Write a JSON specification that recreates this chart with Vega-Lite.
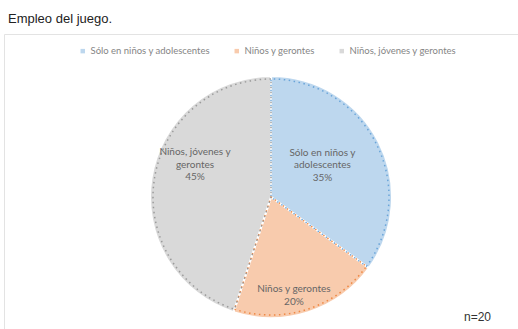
{
  "$schema": "https://vega.github.io/schema/vega-lite/v6.json",
  "autosize": "none",
  "width": 514,
  "height": 295,
  "padding": {"left": 4, "top": 34, "right": 0, "bottom": 0},
  "background": "white",
  "title": {
    "text": "Empleo del juego.",
    "anchor": "start",
    "frame": "group",
    "dx": 4,
    "offset": 8,
    "fontSize": 13,
    "font": "Liberation Sans",
    "fontWeight": "normal",
    "color": "#222222"
  },
  "config": {
    "view": {"stroke": "#e3e3e3", "strokeWidth": 1}
  },
  "data": {
    "values": [
      {"i": 1, "categoria": "Sólo en niños y adolescentes", "valor": 35, "label": ["Sólo en niños y", "adolescentes", "35%"]},
      {"i": 2, "categoria": "Niños y gerontes", "valor": 20, "label": ["Niños y gerontes", "20%"]},
      {"i": 3, "categoria": "Niños, jóvenes y gerontes", "valor": 45, "label": ["Niños, jóvenes y", "gerontes", "45%"]}
    ]
  },
  "encoding": {
    "theta": {"field": "valor", "type": "quantitative", "stack": true},
    "order": {"field": "i", "type": "quantitative"}
  },
  "layer": [
    {
      "mark": {"type": "arc", "radius": 121, "xOffset": 10, "yOffset": 15.5, "stroke": "white", "strokeWidth": 2},
      "encoding": {
        "color": {
          "field": "categoria",
          "type": "nominal",
          "scale": {
            "domain": ["Sólo en niños y adolescentes", "Niños y gerontes", "Niños, jóvenes y gerontes"],
            "range": ["#bdd7ee", "#f8cbad", "#d9d9d9"]
          },
          "legend": {
            "title": null,
            "orient": "none",
            "direction": "horizontal",
            "legendX": 74,
            "legendY": 12,
            "symbolType": "square",
            "symbolSize": 20,
            "symbolStrokeWidth": 0,
            "labelFont": "Lato",
            "labelFontSize": 9.5,
            "labelColor": "#858585",
            "labelOffset": 3,
            "columnPadding": 22
          }
        }
      }
    },
    {
      "mark": {"type": "arc", "radius": 118, "xOffset": 10, "yOffset": 15.5, "fill": null, "filled": false, "strokeWidth": 1.5, "strokeDash": [1.5, 3.5], "opacity": 0.85},
      "encoding": {
        "stroke": {
          "field": "categoria",
          "type": "nominal",
          "scale": {
            "domain": ["Sólo en niños y adolescentes", "Niños y gerontes", "Niños, jóvenes y gerontes"],
            "range": ["#5b9bd5", "#ed7d31", "#8f8f8f"]
          },
          "legend": null
        }
      }
    },
    {
      "mark": {"type": "text", "radius": 60, "xOffset": 10, "yOffset": 15.5, "dx": -2, "dy": -17, "font": "Lato", "fontSize": 10, "color": "#666666", "lineHeight": 12.5},
      "encoding": {
        "text": {"condition": {"test": "datum.i === 1", "field": "label"}, "value": ""}
      }
    },
    {
      "mark": {"type": "text", "radius": 100, "xOffset": 10, "yOffset": 15.5, "dx": -8, "dy": -3, "font": "Lato", "fontSize": 10, "color": "#666666", "lineHeight": 12.5},
      "encoding": {
        "text": {"condition": {"test": "datum.i === 2", "field": "label"}, "value": ""}
      }
    },
    {
      "mark": {"type": "text", "radius": 82, "xOffset": 10, "yOffset": 15.5, "dx": 5, "dy": -32, "font": "Lato", "fontSize": 10, "color": "#666666", "lineHeight": 12.5},
      "encoding": {
        "text": {"condition": {"test": "datum.i === 3", "field": "label"}, "value": ""}
      }
    },
    {
      "data": {"values": [{"nota": "n=20"}]},
      "mark": {"type": "text", "align": "right", "baseline": "alphabetic", "dx": -27, "dy": -8, "font": "Liberation Sans", "fontSize": 12, "color": "#333333"},
      "encoding": {
        "x": {"value": "width"},
        "y": {"value": "height"},
        "text": {"field": "nota", "type": "nominal"},
        "theta": null,
        "order": null
      }
    }
  ]
}
